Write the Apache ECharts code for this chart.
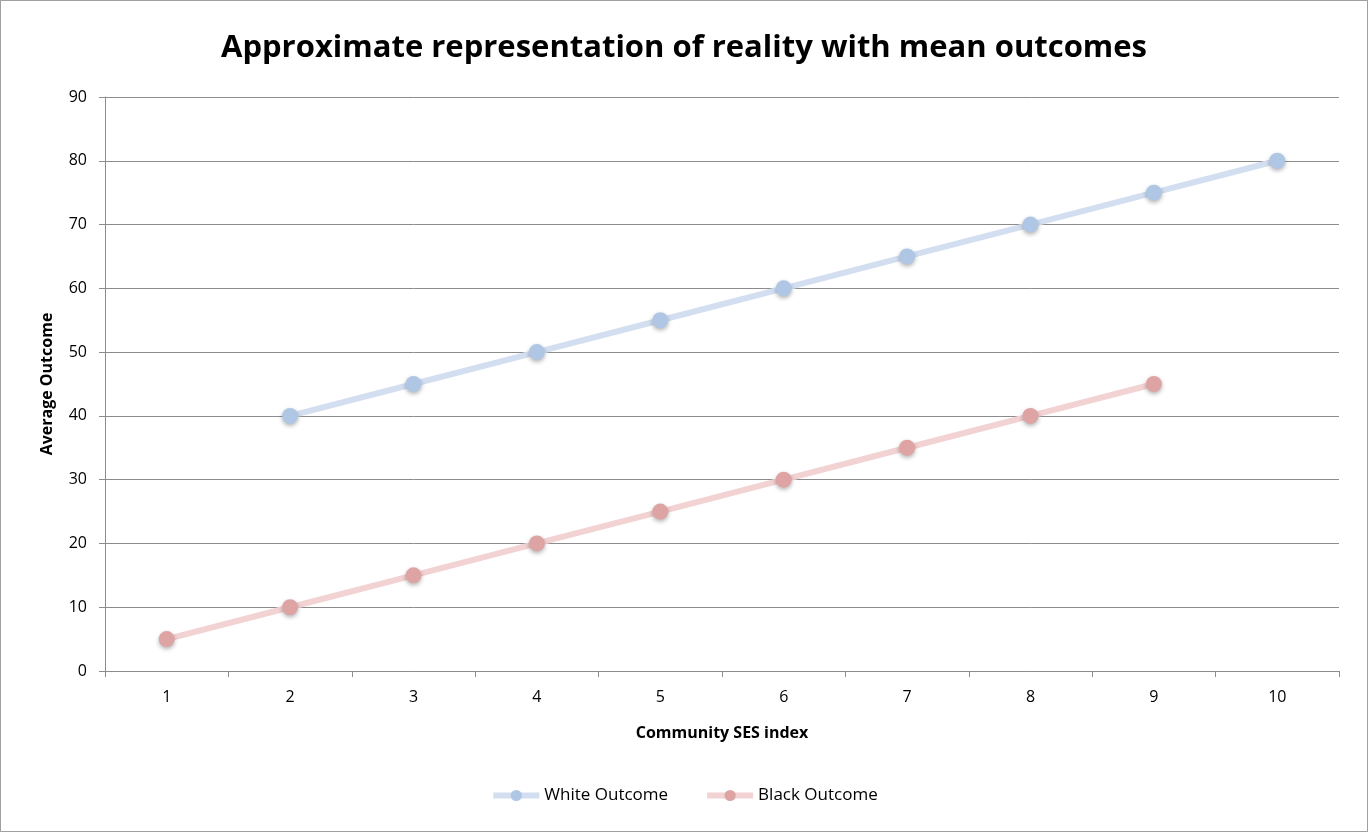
<!DOCTYPE html>
<html><head><meta charset="utf-8">
<script src="https://cdn.jsdelivr.net/npm/echarts@6/dist/echarts.min.js"></script>
<style>html,body{margin:0;padding:0;background:#fff}#c{width:1368px;height:832px;box-sizing:border-box;border:1px solid #a0a0a0}</style>
</head><body><div id="c"></div>
<script>
const categories = ['1','2','3','4','5','6','7','8','9','10'];
const whiteOutcome = [null,40,45,50,55,60,65,70,75,80];
const blackOutcome = [5,10,15,20,25,30,35,40,45,null];
const seriesNames = ['White Outcome','Black Outcome'];
const chart = echarts.init(document.getElementById('c'));
const font = 'Open Sans';
chart.setOption({
  animation:false,
  title:{text:'Approximate representation of reality with mean outcomes',left:'center',top:27,
    textStyle:{fontFamily:font,fontWeight:'bold',fontSize:31,color:'#000'}},
  grid:{left:104,right:28,top:96,bottom:160},
  legend:{bottom:22,left:'center',itemWidth:46,itemHeight:14,itemGap:36,
    lineStyle:{width:6},
    textStyle:{fontFamily:font,fontSize:17,color:'#000'},data:seriesNames},
  xAxis:{type:'category',data:categories,boundaryGap:true,
    name:'Community SES index',nameLocation:'middle',nameGap:54,
    nameTextStyle:{fontFamily:font,fontWeight:'bold',fontSize:16,color:'#000'},
    axisLine:{lineStyle:{color:'#8c8c8c',width:1}},
    axisTick:{show:true,length:6,inside:false,lineStyle:{color:'#8c8c8c'}},
    axisLabel:{fontFamily:font,fontSize:16,color:'#000',margin:18}},
  yAxis:{type:'value',min:0,max:90,interval:10,
    name:'Average Outcome',nameLocation:'middle',nameGap:50,
    nameTextStyle:{fontFamily:font,fontWeight:'bold',fontSize:16,color:'#000'},
    axisLine:{show:true,lineStyle:{color:'#8c8c8c',width:1}},
    axisTick:{show:true,length:6,lineStyle:{color:'#8c8c8c'}},
    axisLabel:{fontFamily:font,fontSize:16,color:'#000',margin:18},
    splitLine:{lineStyle:{color:'#8c8c8c',width:1}}},
  series:[
    {name:seriesNames[0],type:'line',data:whiteOutcome,symbol:'circle',symbolSize:16,
      lineStyle:{color:'#d3dff0',width:6},
      itemStyle:{color:'#afc6e4',shadowColor:'rgba(0,0,0,0.3)',shadowBlur:4,shadowOffsetY:2}},
    {name:seriesNames[1],type:'line',data:blackOutcome,symbol:'circle',symbolSize:16,
      lineStyle:{color:'#f2d2d2',width:6},
      itemStyle:{color:'#dea4a3',shadowColor:'rgba(0,0,0,0.3)',shadowBlur:4,shadowOffsetY:2}}
  ]
});
</script></body></html>
